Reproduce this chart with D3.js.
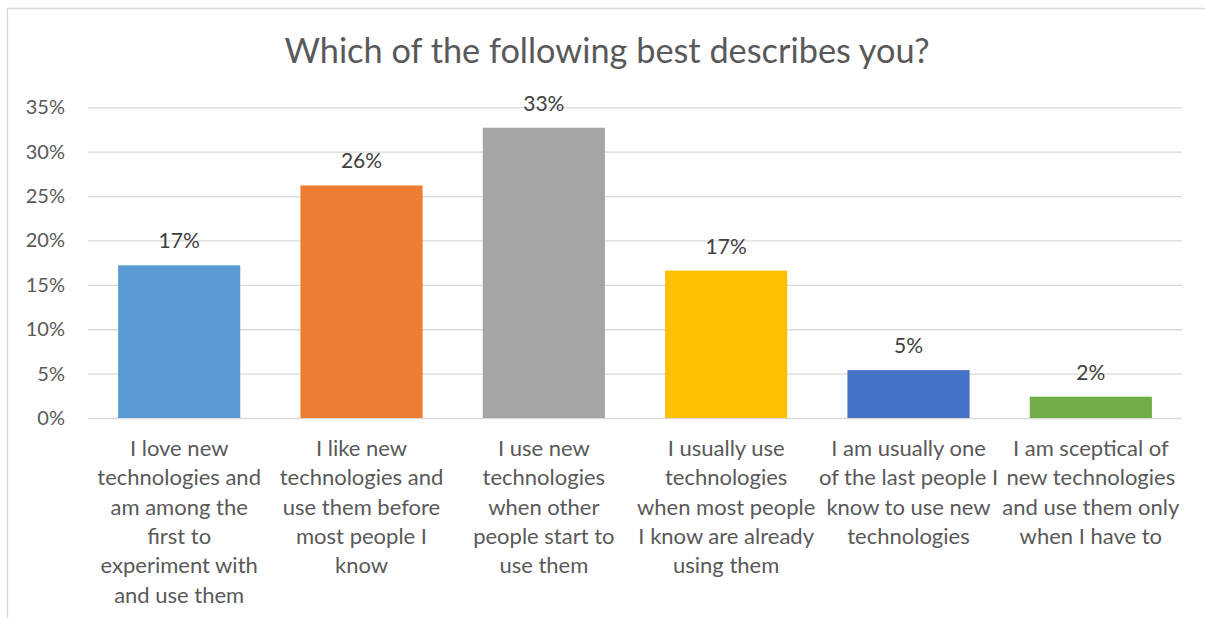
<!DOCTYPE html>
<html>
<head>
<meta charset="utf-8">
<script src="https://cdn.jsdelivr.net/npm/d3@7"></script>
<style>
  html, body { margin: 0; padding: 0; background: #fff; overflow: hidden; }
  svg { display: block; font-family: Lato, "Open Sans", sans-serif; }
</style>
</head>
<body>
<svg id="chart" width="1205" height="618"></svg>
<script>
// Survey answers: one line array per category label
const categories = [
  ["I love new", "technologies and", "am among the", "first to", "experiment with", "and use them"],
  ["I like new", "technologies and", "use them before", "most people I", "know"],
  ["I use new", "technologies", "when other", "people start to", "use them"],
  ["I usually use", "technologies", "when most people", "I know are already", "using them"],
  ["I am usually one", "of the last people I", "know to use new", "technologies"],
  ["I am sceptical of", "new technologies", "and use them only", "when I have to"]
];
const shares = [0.172, 0.262, 0.327, 0.166, 0.054, 0.024];
const barColors = ["#5B9BD5", "#ED7D31", "#A5A5A5", "#FFC000", "#4472C4", "#70AD47"];
const yTicks = [0, 0.05, 0.10, 0.15, 0.20, 0.25, 0.30, 0.35];
const title = "Which of the following best describes you?";

const svg = d3.select("#chart");
const W = 1205, H = 618;
const plot = { left: 88, right: 1182, top: 107.3, bottom: 418 };

// chart frame (left and top edges only; the rest runs off the page)
svg.append("path")
  .attr("d", `M7.5,${H} V8.5 H${W + 5}`)
  .attr("fill", "none")
  .attr("stroke", "#d9d9d9")
  .attr("stroke-width", 1.3);

const x = d3.scaleBand()
  .domain(d3.range(categories.length))
  .range([plot.left, plot.right])
  .paddingInner(0.33)
  .paddingOuter(0.165);

const y = d3.scaleLinear()
  .domain([0, 0.35])
  .range([plot.bottom, plot.top]);

const pct = d3.format(".0%");

// gridlines + y tick labels
const yAxis = d3.axisLeft(y)
  .tickValues(yTicks)
  .tickFormat(pct)
  .tickSize(-(plot.right - plot.left))
  .tickPadding(23);

const gy = svg.append("g")
  .attr("transform", `translate(${plot.left},0)`)
  .call(yAxis);
gy.select(".domain").remove();
gy.selectAll(".tick line").attr("stroke", "#d9d9d9").attr("stroke-width", 1.3);
gy.selectAll(".tick text")
  .attr("fill", "#595959")
  .attr("font-size", 20)
  .attr("font-family", "Lato, sans-serif");

// bars
svg.append("g").selectAll("rect")
  .data(shares)
  .join("rect")
  .attr("x", (d, i) => x(i))
  .attr("width", x.bandwidth())
  .attr("y", d => y(d))
  .attr("height", d => y(0) - y(d))
  .attr("fill", (d, i) => barColors[i]);

// value labels
svg.append("g").selectAll("text")
  .data(shares)
  .join("text")
  .attr("x", (d, i) => x(i) + x.bandwidth() / 2)
  .attr("y", d => y(d) - 17)
  .attr("text-anchor", "middle")
  .attr("fill", "#404040")
  .attr("font-size", 21)
  .text(d => pct(d));

// category labels
const cat = svg.append("g").selectAll("text")
  .data(categories)
  .join("text")
  .attr("text-anchor", "middle")
  .attr("fill", "#595959")
  .attr("font-size", 22)
  .attr("transform", (d, i) => `translate(${x(i) + x.bandwidth() / 2},456)`);
cat.selectAll("tspan")
  .data(d => d)
  .join("tspan")
  .attr("x", 0)
  .attr("y", (d, j) => j * 29.3)
  .text(d => d);

// title
svg.append("text")
  .attr("x", 607)
  .attr("y", 63)
  .attr("text-anchor", "middle")
  .attr("fill", "#595959")
  .attr("font-size", 34.3)
  .text(title);
</script>
</body>
</html>
